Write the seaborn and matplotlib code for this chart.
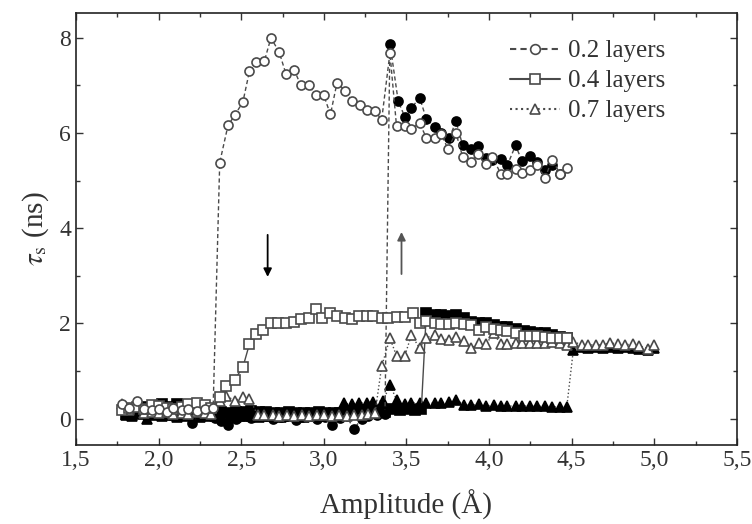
import matplotlib
matplotlib.use("Agg")
import matplotlib.pyplot as plt
from matplotlib.lines import Line2D
from matplotlib.ticker import MultipleLocator, FuncFormatter
import seaborn as sns

# ---- data: 0.2 layers ----
amp_02_open = [1.78, 1.82, 1.87, 1.91, 1.96, 2.00, 2.05, 2.09, 2.14, 2.18, 2.23, 2.28, 2.33,
               2.37, 2.42, 2.46, 2.51, 2.55, 2.59, 2.64, 2.68, 2.73, 2.77, 2.82, 2.86, 2.91,
               2.95, 3.00, 3.04, 3.08, 3.13, 3.17, 3.22, 3.26, 3.31, 3.35, 3.40, 3.44, 3.49,
               3.53, 3.58, 3.62, 3.67, 3.71, 3.75, 3.80, 3.84, 3.89, 3.93, 3.98, 4.02, 4.07,
               4.11, 4.16, 4.20, 4.25, 4.29, 4.34, 4.38, 4.43, 4.47]
tau_02_open = [0.31, 0.22, 0.37, 0.20, 0.18, 0.20, 0.15, 0.22, 0.18, 0.20, 0.16, 0.20, 0.22,
               5.38, 6.16, 6.37, 6.65, 7.30, 7.49, 7.51, 8.00, 7.70, 7.25, 7.33, 7.01, 7.01,
               6.79, 6.79, 6.39, 7.06, 6.88, 6.68, 6.59, 6.49, 6.46, 6.28, 7.68, 6.14, 6.14,
               6.09, 6.21, 5.90, 5.90, 5.99, 5.67, 6.00, 5.50, 5.39, 5.57, 5.34, 5.50, 5.15,
               5.15, 5.25, 5.16, 5.23, 5.32, 5.06, 5.44, 5.15, 5.27]

amp_02_fill = [1.80, 1.84, 1.89, 1.93, 1.98, 2.02, 2.07, 2.11, 2.16, 2.20, 2.25, 2.29, 2.34,
               2.38, 2.42, 2.47, 2.51, 2.56, 2.60, 2.65, 2.69, 2.74, 2.78, 2.83, 2.87, 2.92,
               2.96, 3.01, 3.05, 3.10, 3.14, 3.18, 3.23, 3.27, 3.32, 3.37,
               3.40, 3.45, 3.49, 3.53, 3.58, 3.62, 3.67, 3.71, 3.76, 3.80, 3.84, 3.89, 3.93,
               3.98, 4.02, 4.07, 4.11, 4.16, 4.20, 4.25, 4.29, 4.34, 4.38, 4.43]
tau_02_fill = [0.12, 0.08, 0.15, 0.05, 0.10, 0.12, 0.08, 0.05, 0.10, -0.08, 0.05, 0.08, 0.02,
               -0.05, -0.13, 0.00, 0.05, 0.02, 0.08, 0.05, 0.00, 0.04, 0.06, -0.02, 0.03, 0.05,
               0.00, 0.04, -0.13, 0.02, 0.05, -0.22, 0.00, 0.05, 0.08, 0.10,
               7.88, 6.67, 6.34, 6.53, 6.74, 6.30, 6.13, 6.00, 5.90, 6.25, 5.74, 5.67, 5.72,
               5.48, 5.44, 5.46, 5.32, 5.74, 5.41, 5.51, 5.39, 5.23, 5.32, 5.15]

# ---- data: 0.4 layers ----
amp_04_open = [1.78, 1.82, 1.87, 1.91, 1.96, 2.00, 2.05, 2.09, 2.14, 2.18, 2.23, 2.28, 2.32,
               2.37, 2.41, 2.46, 2.51, 2.55, 2.59, 2.63, 2.68, 2.72, 2.77, 2.82, 2.86, 2.91,
               2.95, 2.99, 3.04, 3.08, 3.13, 3.17, 3.21, 3.26, 3.30, 3.35, 3.39, 3.44, 3.49,
               3.54, 3.58, 3.62, 3.67, 3.71, 3.76, 3.80, 3.85, 3.89, 3.94, 3.98, 4.03, 4.07,
               4.11, 4.16, 4.21, 4.25, 4.29, 4.34, 4.38, 4.43, 4.47]
tau_04_open = [0.18, 0.22, 0.25, 0.20, 0.28, 0.26, 0.22, 0.20, 0.25, 0.30, 0.33, 0.29, 0.22,
               0.45, 0.68, 0.82, 1.08, 1.57, 1.78, 1.87, 2.00, 2.00, 2.00, 2.04, 2.09, 2.11,
               2.30, 2.12, 2.21, 2.16, 2.12, 2.10, 2.15, 2.15, 2.15, 2.11, 2.11, 2.13, 2.13,
               2.23, 2.01, 2.06, 2.02, 1.99, 1.99, 2.02, 1.99, 1.97, 1.87, 1.92, 1.89, 1.87,
               1.84, 1.81, 1.74, 1.74, 1.74, 1.72, 1.69, 1.69, 1.69]

amp_04_fill = [1.80, 1.84, 1.89, 1.93, 1.98, 2.02, 2.07, 2.11, 2.16, 2.20, 2.25, 2.29, 2.34,
               2.38, 2.43, 2.47, 2.52, 2.56, 2.61, 2.65, 2.70, 2.74, 2.79, 2.83, 2.88, 2.92,
               2.97, 3.01, 3.06, 3.10, 3.15, 3.19, 3.24, 3.28, 3.33, 3.37, 3.42, 3.46, 3.51,
               3.55, 3.59,
               3.62, 3.67, 3.71, 3.76, 3.80, 3.85, 3.89, 3.94, 3.98, 4.03, 4.07, 4.11, 4.16,
               4.21, 4.25, 4.29, 4.34, 4.38, 4.43, 4.47]
tau_04_fill = [0.10, 0.15, 0.20, 0.25, 0.18, 0.30, 0.25, 0.30, 0.28, 0.22, 0.20, 0.15, 0.18,
               0.15, 0.12, 0.15, 0.14, 0.16, 0.14, 0.15, 0.12, 0.13, 0.14, 0.12, 0.13, 0.12,
               0.14, 0.12, 0.13, 0.12, 0.10, 0.12, 0.13, 0.12, 0.14, 0.15, 0.20, 0.18, 0.20,
               0.19, 0.20,
               2.21, 2.17, 2.17, 2.16, 2.18, 2.12, 2.04, 2.02, 2.01, 1.97, 1.93, 1.92, 1.88,
               1.85, 1.82, 1.80, 1.79, 1.76, 1.72, 1.69]

# ---- data: 0.7 layers ----
amp_07_open = [1.78, 1.82, 1.87, 1.91, 1.96, 2.00, 2.05, 2.09, 2.14, 2.18, 2.23, 2.28, 2.32,
               2.37, 2.41, 2.46, 2.51, 2.55, 2.60, 2.64, 2.69, 2.73, 2.78, 2.82, 2.87, 2.91,
               2.96, 3.00, 3.05, 3.09, 3.14, 3.18, 3.23, 3.27, 3.31,
               3.35, 3.40, 3.44, 3.49, 3.53, 3.58, 3.62, 3.67, 3.71, 3.76, 3.80, 3.85, 3.89,
               3.94, 3.98, 4.03, 4.07, 4.11, 4.16, 4.20, 4.25, 4.29, 4.34, 4.38, 4.43, 4.47,
               4.51, 4.56, 4.60, 4.65, 4.69, 4.73, 4.78, 4.82, 4.87, 4.91, 4.96, 5.00]
tau_07_open = [0.30, 0.18, 0.27, 0.12, 0.15, 0.12, 0.15, 0.10, 0.12, 0.10, 0.15, 0.12, 0.10,
               0.38, 0.48, 0.38, 0.45, 0.42, 0.08, 0.07, 0.08, 0.06, 0.08, 0.05, 0.07, 0.06,
               0.08, 0.07, 0.06, 0.08, 0.05, 0.07, 0.08, 0.10, 0.12,
               1.10, 1.69, 1.32, 1.32, 1.76, 1.48, 1.70, 1.76, 1.68, 1.65, 1.72, 1.64, 1.48,
               1.58, 1.57, 1.79, 1.56, 1.57, 1.58, 1.58, 1.58, 1.58, 1.60, 1.61, 1.60, 1.55,
               1.62, 1.55, 1.55, 1.55, 1.55, 1.60, 1.56, 1.55, 1.57, 1.53, 1.47, 1.55]

amp_07_fill = [1.80, 1.84, 1.89, 1.93, 1.98, 2.02, 2.07, 2.11, 2.16, 2.20, 2.25, 2.29, 2.34,
               2.38, 2.43, 2.47, 2.52, 2.56, 2.61, 2.65, 2.70, 2.74, 2.79, 2.83, 2.88, 2.92,
               2.97, 3.01, 3.06, 3.12, 3.17, 3.21, 3.26, 3.30, 3.36, 3.40, 3.44, 3.49, 3.53,
               3.58, 3.62, 3.67, 3.71, 3.76, 3.80, 3.85, 3.89, 3.94, 3.98, 4.03, 4.07, 4.11,
               4.16, 4.20, 4.25, 4.29, 4.34, 4.38, 4.43, 4.47,
               4.51, 4.56, 4.60, 4.65, 4.69, 4.73, 4.78, 4.82, 4.87, 4.91, 4.96, 5.00]
tau_07_fill = [0.08, 0.05, 0.10, 0.00, 0.08, 0.05, 0.07, 0.03, 0.06, 0.08, 0.04, 0.06, 0.05,
               0.03, 0.06, 0.04, 0.05, 0.06, 0.04, 0.05, 0.06, 0.04, 0.05, 0.06, 0.04, 0.05,
               0.06, 0.05, 0.06, 0.33, 0.30, 0.33, 0.34, 0.35, 0.38, 0.71, 0.40, 0.30, 0.33,
               0.34, 0.32, 0.33, 0.33, 0.36, 0.40, 0.29, 0.28, 0.30, 0.27, 0.28, 0.26, 0.27,
               0.26, 0.27, 0.26, 0.26, 0.26, 0.25, 0.25, 0.24,
               1.45, 1.50, 1.49, 1.50, 1.48, 1.50, 1.49, 1.50, 1.49, 1.47, 1.45, 1.48]

labels = ["0.2 layers", "0.4 layers", "0.7 layers"]

sns.set_theme(style="ticks")
plt.rcParams["font.family"] = ["Liberation Serif", "DejaVu Serif"]
plt.rcParams["mathtext.fontset"] = "stix"

fig = plt.figure(figsize=(7.52, 5.24), dpi=100)
ax = fig.add_axes([0.101, 0.151, 0.879, 0.824])

grey = "#4a4a4a"
dash = (0, (3, 2))
series = [
    (amp_07_fill, tau_07_fill, "^", ":", "black", "black"),
    (amp_04_fill, tau_04_fill, "s", "-", "black", "black"),
    (amp_02_fill, tau_02_fill, "o", dash, "black", "black"),
    (amp_07_open, tau_07_open, "^", ":", grey, "white"),
    (amp_04_open, tau_04_open, "s", "-", grey, "white"),
    (amp_02_open, tau_02_open, "o", dash, grey, "white"),
]
for xs, ys, mk, ls, ec, fc in series:
    sns.lineplot(x=xs, y=ys, ax=ax, estimator=None, sort=False,
                 color=grey, linestyle=ls, linewidth=1.0,
                 marker=mk, markersize=6.5, markerfacecolor=fc,
                 markeredgecolor=ec, markeredgewidth=1.2)

# hysteresis arrows
ax.annotate("", xy=(2.66, 2.92), xytext=(2.66, 3.92),
            arrowprops=dict(arrowstyle="-|>", color="black", lw=1.3, mutation_scale=12))
ax.annotate("", xy=(3.47, 3.98), xytext=(3.47, 2.98),
            arrowprops=dict(arrowstyle="-|>", color="#555555", lw=1.3, mutation_scale=12))

ax.set_xlim(1.5, 5.5)
ax.set_ylim(-0.55, 8.52)
ax.xaxis.set_major_locator(MultipleLocator(0.5))
ax.xaxis.set_minor_locator(MultipleLocator(0.25))
ax.yaxis.set_major_locator(MultipleLocator(2))
ax.yaxis.set_minor_locator(MultipleLocator(1))
ax.xaxis.set_major_formatter(FuncFormatter(lambda v, p: f"{v:.1f}".replace(".", ",")))
ax.yaxis.set_major_formatter(FuncFormatter(lambda v, p: f"{v:.0f}"))
ax.tick_params(which="both", direction="in", top=True, right=True, colors="#333333",
               labelsize=17, width=1.0)
ax.tick_params(which="major", length=5)
ax.tick_params(which="minor", length=3)
for sp in ax.spines.values():
    sp.set_color("#222222")
    sp.set_linewidth(1.2)

ax.set_xlabel("Amplitude (Å)", fontsize=21, color="#333333", labelpad=14)
ax.set_ylabel(r"$\tau_{\rm s}$ (ns)", fontsize=21, color="#333333", labelpad=6)

handles = [
    Line2D([], [], color=grey, linestyle=dash, marker="o", markersize=7,
           markerfacecolor="white", markeredgecolor=grey, markeredgewidth=1.2),
    Line2D([], [], color=grey, linestyle="-", marker="s", markersize=7,
           markerfacecolor="white", markeredgecolor=grey, markeredgewidth=1.2),
    Line2D([], [], color=grey, linestyle=":", marker="^", markersize=7,
           markerfacecolor="white", markeredgecolor=grey, markeredgewidth=1.2),
]
ax.legend(handles, labels, loc="upper right", bbox_to_anchor=(0.925, 0.99),
          frameon=False, fontsize=18, handlelength=2.0, handletextpad=0.3,
          labelspacing=0.3, labelcolor="#333333")

fig.savefig("out.png", dpi=100)
